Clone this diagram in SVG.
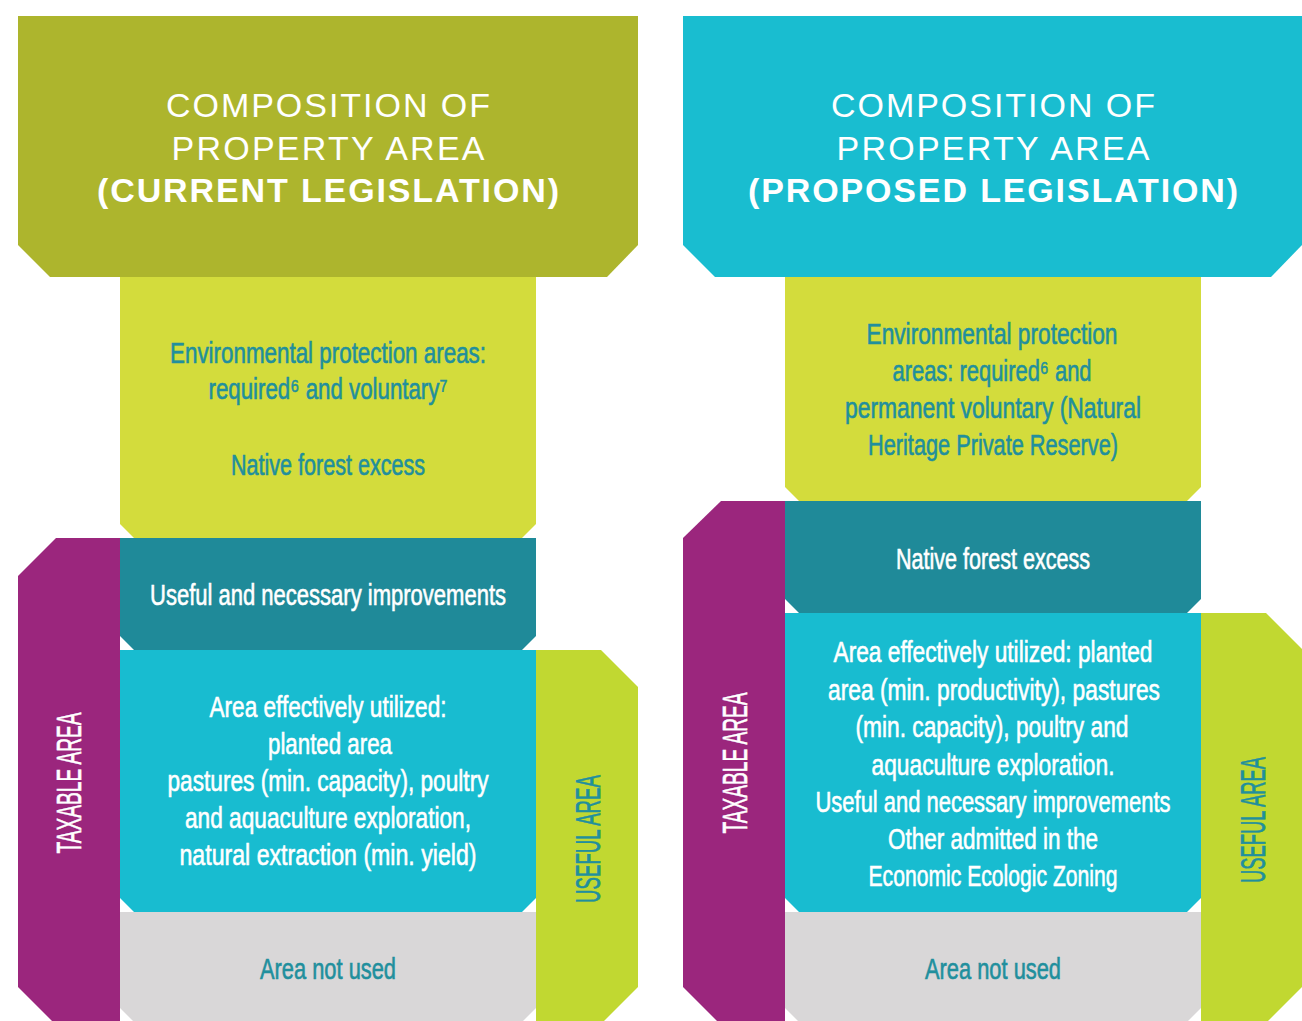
<svg xmlns="http://www.w3.org/2000/svg" width="1302" height="1021" viewBox="0 0 1302 1021">
  <style>
    .title { font-family: "Liberation Sans", Arial, sans-serif; font-size: 34px; fill: #ffffff; text-anchor: middle; }
    .title-b { font-weight: bold; }
    .body { font-family: "Liberation Sans Narrow", "Liberation Sans", Arial, sans-serif; font-size: 29px; text-anchor: middle; }
    .side { font-family: "Liberation Sans Narrow", "Liberation Sans", Arial, sans-serif; font-size: 35px; text-anchor: middle; }
    .w { fill: #ffffff; stroke: #ffffff; stroke-width: 0.6; }
    .t { fill: #218f9d; stroke: #218f9d; stroke-width: 0.6; }
    .hdr-cur { fill: #adb52d; }
    .hdr-pro { fill: #19bdd0; }
    .env { fill: #d3dc3c; }
    .teal { fill: #1f8a99; }
    .cyan { fill: #18bcd0; }
    .grey { fill: #d9d7d8; }
    .tax { fill: #9b267d; }
    .useful { fill: #c1d831; }
  </style>

  <!-- Left column: current legislation -->
  <g id="header-current">
    <path class="hdr-cur" d="M18,16 H638 V245 L607,277 H50 L18,245 Z"/>
    <text class="title" x="328" y="117" textLength="324" lengthAdjust="spacing">COMPOSITION OF</text>
    <text class="title" x="328" y="160" textLength="313" lengthAdjust="spacing">PROPERTY AREA</text>
    <text class="title title-b" x="328" y="202" textLength="462" lengthAdjust="spacing">(CURRENT LEGISLATION)</text>
  </g>

  <g id="env-current">
    <path class="env" d="M120,277 H536 V524 L522,538 H134 L120,524 Z"/>
    <text class="body t" x="328" y="363" textLength="316" lengthAdjust="spacingAndGlyphs">Environmental protection areas:</text>
    <text class="body t" x="328" y="399" textLength="239" lengthAdjust="spacingAndGlyphs">required⁶ and voluntary⁷</text>
    <text class="body t" x="328" y="475" textLength="194" lengthAdjust="spacingAndGlyphs">Native forest excess</text>
  </g>

  <g id="taxable-current">
    <path class="tax" d="M56,538 H120 V1021 H52 L18,987 V576 Z"/>
    <text class="side w" transform="translate(81,783) rotate(-90)" textLength="141" lengthAdjust="spacingAndGlyphs">TAXABLE AREA</text>
  </g>

  <g id="improvements-current">
    <path class="teal" d="M120,538 H536 V636 L522,650 H134 L120,636 Z"/>
    <text class="body w" x="328" y="605" textLength="356" lengthAdjust="spacingAndGlyphs">Useful and necessary improvements</text>
  </g>

  <g id="utilized-current">
    <path class="cyan" d="M120,650 H536 V898 L522,912 H134 L120,898 Z"/>
    <text class="body w" x="328" y="717" textLength="237" lengthAdjust="spacingAndGlyphs">Area effectively utilized:</text>
    <text class="body w" x="330" y="754" textLength="124" lengthAdjust="spacingAndGlyphs">planted area</text>
    <text class="body w" x="328" y="791" textLength="321" lengthAdjust="spacingAndGlyphs">pastures (min. capacity), poultry</text>
    <text class="body w" x="328" y="828" textLength="286" lengthAdjust="spacingAndGlyphs">and aquaculture exploration,</text>
    <text class="body w" x="328" y="865" textLength="297" lengthAdjust="spacingAndGlyphs">natural extraction (min. yield)</text>
  </g>

  <g id="notused-current">
    <path class="grey" d="M120,912 H536 V1008 L523,1021 H133 L120,1008 Z"/>
    <text class="body t" x="328" y="979" textLength="136" lengthAdjust="spacingAndGlyphs">Area not used</text>
  </g>

  <g id="useful-current">
    <path class="useful" d="M536,650 H601 L638,687 V987 L604,1021 H536 Z"/>
    <text class="side t" transform="translate(600,839) rotate(-90)" textLength="128" lengthAdjust="spacingAndGlyphs">USEFUL AREA</text>
  </g>

  <!-- Right column: proposed legislation -->
  <g id="header-proposed">
    <path class="hdr-pro" d="M683,16 H1302 V245 L1271,277 H715 L683,245 Z"/>
    <text class="title" x="993" y="117" textLength="324" lengthAdjust="spacing">COMPOSITION OF</text>
    <text class="title" x="993" y="160" textLength="313" lengthAdjust="spacing">PROPERTY AREA</text>
    <text class="title title-b" x="993" y="202" textLength="490" lengthAdjust="spacing">(PROPOSED LEGISLATION)</text>
  </g>

  <g id="env-proposed">
    <path class="env" d="M785,277 H1201 V487 L1187,501 H799 L785,487 Z"/>
    <text class="body t" x="992" y="344" textLength="251" lengthAdjust="spacingAndGlyphs">Environmental protection</text>
    <text class="body t" x="992" y="381" textLength="199" lengthAdjust="spacingAndGlyphs">areas: required⁶ and</text>
    <text class="body t" x="993" y="418" textLength="296" lengthAdjust="spacingAndGlyphs">permanent voluntary (Natural</text>
    <text class="body t" x="993" y="455" textLength="250" lengthAdjust="spacingAndGlyphs">Heritage Private Reserve)</text>
  </g>

  <g id="taxable-proposed">
    <path class="tax" d="M721,501 H785 V1021 H717 L683,987 V538 Z"/>
    <text class="side w" transform="translate(747,763) rotate(-90)" textLength="141" lengthAdjust="spacingAndGlyphs">TAXABLE AREA</text>
  </g>

  <g id="forest-proposed">
    <path class="teal" d="M785,501 H1201 V599 L1187,613 H799 L785,599 Z"/>
    <text class="body w" x="993" y="569" textLength="194" lengthAdjust="spacingAndGlyphs">Native forest excess</text>
  </g>

  <g id="utilized-proposed">
    <path class="cyan" d="M785,613 H1201 V898 L1187,912 H799 L785,898 Z"/>
    <text class="body w" x="993" y="662" textLength="319" lengthAdjust="spacingAndGlyphs">Area effectively utilized: planted</text>
    <text class="body w" x="994" y="700" textLength="332" lengthAdjust="spacingAndGlyphs">area (min. productivity), pastures</text>
    <text class="body w" x="992" y="737" textLength="273" lengthAdjust="spacingAndGlyphs">(min. capacity), poultry and</text>
    <text class="body w" x="993" y="775" textLength="243" lengthAdjust="spacingAndGlyphs">aquaculture exploration.</text>
    <text class="body w" x="993" y="812" textLength="355" lengthAdjust="spacingAndGlyphs">Useful and necessary improvements</text>
    <text class="body w" x="993" y="849" textLength="210" lengthAdjust="spacingAndGlyphs">Other admitted in the</text>
    <text class="body w" x="993" y="886" textLength="249" lengthAdjust="spacingAndGlyphs">Economic Ecologic Zoning</text>
  </g>

  <g id="notused-proposed">
    <path class="grey" d="M785,912 H1201 V1008 L1188,1021 H798 L785,1008 Z"/>
    <text class="body t" x="993" y="979" textLength="136" lengthAdjust="spacingAndGlyphs">Area not used</text>
  </g>

  <g id="useful-proposed">
    <path class="useful" d="M1201,613 H1266 L1302,649 V987 L1268,1021 H1201 Z"/>
    <text class="side t" transform="translate(1265,820) rotate(-90)" textLength="126" lengthAdjust="spacingAndGlyphs">USEFUL AREA</text>
  </g>

  <!-- No connectors: blocks touch each other directly -->
  <g id="connectors"/>
</svg>
